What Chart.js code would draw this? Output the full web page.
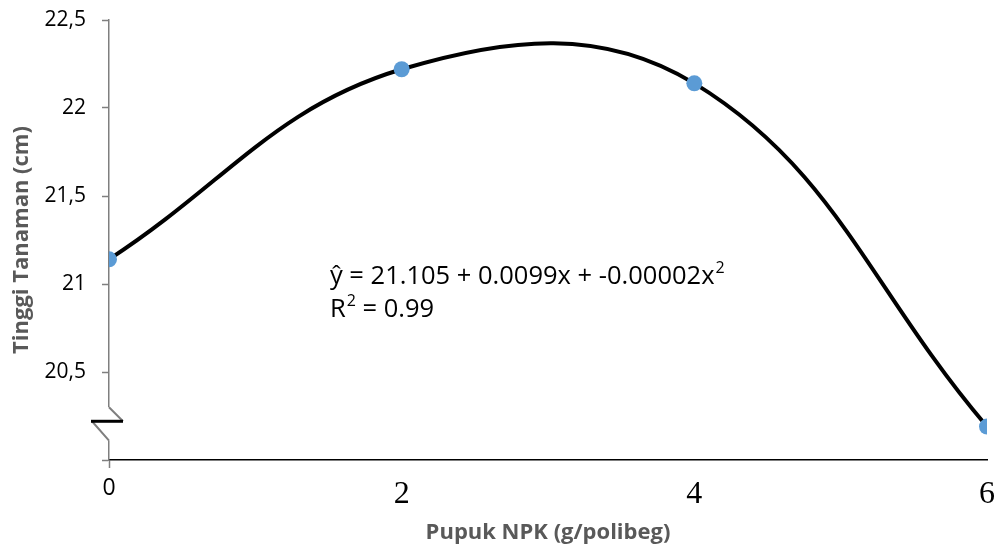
<!DOCTYPE html>
<html>
<head>
<meta charset="utf-8">
<script src="https://cdn.jsdelivr.net/npm/chart.js@4.4.1/dist/chart.umd.min.js"></script>
<style>
  html, body { margin: 0; padding: 0; background: #fff; }
  #wrap { width: 1008px; height: 546px; position: relative; }
</style>
</head>
<body>
<div id="wrap"><canvas id="grafik"></canvas></div>
<script>
// data
const dosisNPK = [0, 2, 4, 6];
const tinggiTanaman = [21.14, 22.22, 22.14, 20.19];
const xTicks = [0, 2, 4, 6];
const xTickLabels = ['0', '2', '4', '6'];
const yTicks = [20, 20.5, 21, 21.5, 22, 22.5];
const yTickLabels = ['', '20,5', '21', '21,5', '22', '22,5'];
const persamaan = ['ŷ = 21.105 + 0.0099x + -0.00002x', '2'];
const rKuadrat = ['R', '2', ' = 0.99'];

const abu = '#595959';

// equation text and the axis break mark
const hiasan = {
  id: 'hiasan',
  afterDraw(chart) {
    const ctx = chart.ctx;
    const x = chart.scales.x, y = chart.scales.y;

    // regression equation
    ctx.save();
    ctx.fillStyle = '#000';
    ctx.textBaseline = 'alphabetic';
    ctx.textAlign = 'left';
    let px = x.getPixelForValue(1.51);
    let py = y.getPixelForValue(21.0);
    ctx.font = '25.5px "Open Sans"';
    ctx.fillText(persamaan[0], px, py);
    let w = ctx.measureText(persamaan[0]).width;
    ctx.font = '16px "Open Sans"';
    ctx.fillText(persamaan[1], px + w + 1, py - 11);

    py = y.getPixelForValue(20.81);
    ctx.font = '25.5px "Open Sans"';
    ctx.fillText(rKuadrat[0], px, py);
    w = ctx.measureText(rKuadrat[0]).width;
    ctx.font = '16px "Open Sans"';
    ctx.fillText(rKuadrat[1], px + w + 1, py - 11);
    const w2 = ctx.measureText(rKuadrat[1]).width;
    ctx.font = '25.5px "Open Sans"';
    ctx.fillText(rKuadrat[2], px + w + w2 + 1, py);
    ctx.restore();

    // axis break on the y axis
    const ax = x.getPixelForValue(0);
    const yAtas = y.getPixelForValue(20.30);
    const yTengah = y.getPixelForValue(20.22);
    const yBawah = y.getPixelForValue(20.11);
    ctx.save();
    ctx.fillStyle = '#fff';
    ctx.fillRect(ax - 3, yAtas, 6, yBawah - yAtas);
    ctx.strokeStyle = '#7f7f7f';
    ctx.lineWidth = 2;
    ctx.beginPath();
    ctx.moveTo(ax, yAtas);
    ctx.lineTo(ax + 14, yTengah);
    ctx.moveTo(ax - 17, yTengah);
    ctx.lineTo(ax, yBawah);
    ctx.stroke();
    ctx.strokeStyle = '#000';
    ctx.lineWidth = 3;
    ctx.beginPath();
    ctx.moveTo(ax - 18, yTengah);
    ctx.lineTo(ax + 14, yTengah);
    ctx.stroke();
    ctx.restore();
  }
};

new Chart(document.getElementById('grafik'), {
  type: 'line',
  data: {
    datasets: [{
      data: dosisNPK.map((d, i) => ({ x: d, y: tinggiTanaman[i] })),
      borderColor: '#000',
      borderWidth: 4,
      tension: 0.4,
      pointRadius: 8,
      pointBackgroundColor: '#5B9BD5',
      pointBorderColor: '#5B9BD5',
      pointBorderWidth: 0,
      fill: false
    }]
  },
  options: {
    responsive: true,
    maintainAspectRatio: false,
    animation: false,
    devicePixelRatio: 1,
    layout: { padding: { top: 20, right: 21, left: 0, bottom: 0 } },
    plugins: {
      legend: { display: false },
      tooltip: { enabled: false }
    },
    scales: {
      x: {
        type: 'linear',
        min: 0,
        max: 6,
        afterBuildTicks: s => { s.ticks = xTicks.map(v => ({ value: v })); },
        afterFit: s => { s.height = 86; },
        border: { color: '#000', width: 1.5 },
        grid: {
          drawOnChartArea: false,
          tickLength: 8,
          tickWidth: 1.5,
          tickColor: c => c.index === 0 ? '#7f7f7f' : 'rgba(0,0,0,0)'
        },
        ticks: {
          padding: 7,
          color: '#000',
          font: c => c.index === 0
            ? { family: '"Open Sans"', size: 23 }
            : { family: '"Liberation Serif"', size: 32 },
          callback: (v, i) => xTickLabels[i]
        },
        title: {
          display: true,
          text: 'Pupuk NPK (g/polibeg)',
          color: abu,
          font: { family: '"Open Sans"', size: 22, weight: 'bold' },
          padding: { top: 0, bottom: 0 }
        }
      },
      y: {
        min: 20,
        max: 22.5,
        afterBuildTicks: s => { s.ticks = yTicks.map(v => ({ value: v })); },
        afterFit: s => { s.width = 109; s.paddingTop = 10; s.paddingBottom = 0; },
        border: { color: '#7f7f7f', width: 1.5 },
        grid: {
          drawOnChartArea: false,
          tickLength: 7,
          tickWidth: 1.5,
          tickColor: '#7f7f7f'
        },
        ticks: {
          padding: 16,
          color: '#000',
          font: { family: '"Open Sans"', size: 21 },
          callback: (v, i) => yTickLabels[i]
        },
        title: {
          display: true,
          text: 'Tinggi Tanaman (cm)',
          color: abu,
          font: { family: '"Open Sans"', size: 22, weight: 'bold' },
          padding: { top: 9, bottom: 0 }
        }
      }
    }
  },
  plugins: [hiasan]
});
</script>
</body>
</html>
